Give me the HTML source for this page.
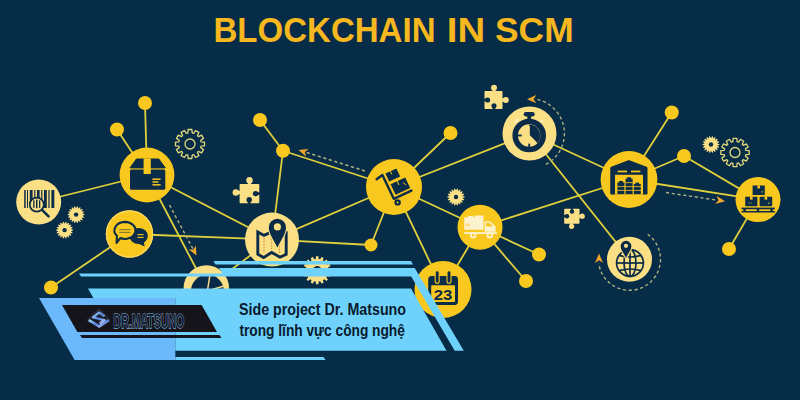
<!DOCTYPE html>
<html lang="vi"><head><meta charset="utf-8"><title>Blockchain in SCM</title>
<style>html,body{margin:0;padding:0;background:#062c47;}body{width:800px;height:400px;overflow:hidden;font-family:"Liberation Sans",sans-serif;}svg{display:block;}</style></head>
<body>
<svg width="800" height="400" viewBox="0 0 800 400">
<rect width="800" height="400" fill="#062c47"/>
<text y="42" font-family="'Liberation Sans',sans-serif" font-weight="700" font-size="35" fill="#f6b81e"><tspan x="213.5" textLength="222" lengthAdjust="spacingAndGlyphs">BLOCKCHAIN</tspan> <tspan x="446.8" textLength="38.3" lengthAdjust="spacingAndGlyphs">IN</tspan> <tspan x="495" textLength="78.6" lengthAdjust="spacingAndGlyphs">SCM</tspan></text>
<g stroke="#e0d03c" stroke-width="1.8" stroke-linecap="round">
<line x1="145" y1="103" x2="147" y2="175"/>
<line x1="117" y1="129.5" x2="147" y2="175"/>
<line x1="38.7" y1="202" x2="147" y2="175"/>
<line x1="147" y1="175" x2="272" y2="239.6"/>
<line x1="147" y1="175" x2="206.3" y2="288"/>
<line x1="129.5" y1="234" x2="272" y2="239.6"/>
<line x1="129.5" y1="234" x2="51" y2="287.5"/>
<line x1="272" y1="239.6" x2="206.3" y2="288"/>
<line x1="272" y1="239.6" x2="283" y2="150.75"/>
<line x1="260" y1="120" x2="283" y2="150.75"/>
<line x1="283" y1="150.75" x2="394" y2="187"/>
<line x1="272" y1="239.6" x2="394" y2="187"/>
<line x1="272" y1="239.6" x2="371" y2="245"/>
<line x1="394" y1="187" x2="371" y2="245"/>
<line x1="394" y1="187" x2="450.5" y2="133"/>
<line x1="394" y1="187" x2="529.5" y2="133.5"/>
<line x1="394" y1="187" x2="480" y2="227.2"/>
<line x1="394" y1="187" x2="443" y2="289.5"/>
<line x1="480" y1="227.2" x2="443" y2="289.5"/>
<line x1="480" y1="227.2" x2="539" y2="254.5"/>
<line x1="480" y1="227.2" x2="526" y2="281"/>
<line x1="480" y1="227.2" x2="629" y2="179.5"/>
<line x1="529.5" y1="133.5" x2="629" y2="179.5"/>
<line x1="529.5" y1="133.5" x2="629.5" y2="259.3"/>
<line x1="629" y1="179.5" x2="671.75" y2="112.5"/>
<line x1="629" y1="179.5" x2="684" y2="156"/>
<line x1="684" y1="156" x2="758" y2="199.6"/>
<line x1="629" y1="179.5" x2="758" y2="199.6"/>
<line x1="758" y1="199.6" x2="729" y2="249"/>
</g>
<g stroke="#afb080" stroke-width="1.4" fill="none" stroke-dasharray="3.2 2.6">
<line x1="365" y1="171" x2="306" y2="152.3"/>
<line x1="169.5" y1="205" x2="193" y2="249"/>
<line x1="666" y1="192.5" x2="716" y2="200"/>
<path d="M545.9 164.4 A35 35 0 0 0 536.8 99.3"/>
<path d="M647.7 234.2 A31 31 0 1 1 598.8 263.6"/>
</g>
<path transform="translate(298.5 150) rotate(197.5)" d="M0 0 L-9.3 -4.1 L-6.6 0 L-9.3 4.1 Z" fill="#f2a62c"/>
<path transform="translate(196.5 255.5) rotate(62)" d="M0 0 L-9.3 -4.1 L-6.6 0 L-9.3 4.1 Z" fill="#f2a62c"/>
<path transform="translate(725 201.3) rotate(8.5)" d="M0 0 L-9.3 -4.1 L-6.6 0 L-9.3 4.1 Z" fill="#f2a62c"/>
<path transform="translate(527 99.2) rotate(180)" d="M0 0 L-9.3 -4.1 L-6.6 0 L-9.3 4.1 Z" fill="#f2a62c"/>
<path transform="translate(599 253.6) rotate(-90)" d="M0 0 L-9.3 -4.1 L-6.6 0 L-9.3 4.1 Z" fill="#f2a62c"/>
<circle cx="145" cy="103" r="7" fill="#f9c81e"/>
<circle cx="117" cy="129.5" r="7" fill="#f9c81e"/>
<circle cx="38.7" cy="202" r="22.5" fill="#fbdf85"/>
<circle cx="147" cy="175" r="27.4" fill="#f9c81e"/>
<circle cx="129.5" cy="234" r="23.7" fill="#f9c81e"/>
<circle cx="51" cy="287.5" r="7" fill="#f9c81e"/>
<circle cx="272" cy="239.6" r="27" fill="#fbdf85"/>
<circle cx="206.3" cy="288" r="22.7" fill="#fbdf85"/>
<circle cx="260" cy="120" r="7" fill="#f9c81e"/>
<circle cx="283" cy="150.75" r="7" fill="#f9c81e"/>
<circle cx="394" cy="187" r="28" fill="#f9c81e"/>
<circle cx="371" cy="245" r="6.5" fill="#f9c81e"/>
<circle cx="450.5" cy="133" r="7" fill="#f9c81e"/>
<circle cx="529.5" cy="133.5" r="27" fill="#fbdf85"/>
<circle cx="480" cy="227.2" r="22.5" fill="#f9c81e"/>
<circle cx="443" cy="289.5" r="28.5" fill="#f9c81e"/>
<circle cx="539" cy="254.5" r="7" fill="#f9c81e"/>
<circle cx="526" cy="281" r="7" fill="#f9c81e"/>
<circle cx="629" cy="179.5" r="28.4" fill="#f9c81e"/>
<circle cx="629.5" cy="259.3" r="22.5" fill="#fbdf85"/>
<circle cx="671.75" cy="112.5" r="7" fill="#f9c81e"/>
<circle cx="684" cy="156" r="7" fill="#f9c81e"/>
<circle cx="758" cy="199.6" r="22.5" fill="#f9c81e"/>
<circle cx="729" cy="249" r="7" fill="#f9c81e"/>
<path d="M201.1 141.8 L204.5 142.1 L204.5 145.9 L201.1 146.2 L200.7 147.7 L203.5 149.6 L201.6 152.9 L198.5 151.4 L197.4 152.5 L198.9 155.6 L195.6 157.5 L193.7 154.7 L192.2 155.1 L191.9 158.5 L188.1 158.5 L187.8 155.1 L186.3 154.7 L184.4 157.5 L181.1 155.6 L182.6 152.5 L181.5 151.4 L178.4 152.9 L176.5 149.6 L179.3 147.7 L178.9 146.2 L175.5 145.9 L175.5 142.1 L178.9 141.8 L179.3 140.3 L176.5 138.4 L178.4 135.1 L181.5 136.6 L182.6 135.5 L181.1 132.4 L184.4 130.5 L186.3 133.3 L187.8 132.9 L188.1 129.5 L191.9 129.5 L192.2 132.9 L193.7 133.3 L195.6 130.5 L198.9 132.4 L197.4 135.5 L198.5 136.6 L201.6 135.1 L203.5 138.4 L200.7 140.3Z" fill="none" stroke="#e3d77c" stroke-width="1.3" stroke-linejoin="round"/><circle cx="190" cy="144" r="5" fill="none" stroke="#e3d77c" stroke-width="1.3"/>
<path d="M82.4 213.5 L84.5 214.2 L84.5 215.0 L82.4 215.7 L84.1 217.1 L83.9 217.8 L81.6 217.8 L82.8 219.7 L82.3 220.3 L80.2 219.5 L80.6 221.7 L80.0 222.0 L78.3 220.6 L77.9 222.8 L77.2 222.9 L76.1 221.0 L75.0 222.9 L74.3 222.8 L73.9 220.6 L72.2 222.0 L71.6 221.7 L72.0 219.5 L69.9 220.3 L69.4 219.7 L70.6 217.8 L68.3 217.8 L68.1 217.1 L69.8 215.7 L67.7 215.0 L67.7 214.2 L69.8 213.5 L68.1 212.1 L68.3 211.4 L70.6 211.4 L69.4 209.5 L69.9 208.9 L72.0 209.7 L71.6 207.5 L72.2 207.2 L73.9 208.6 L74.3 206.4 L75.0 206.3 L76.1 208.2 L77.2 206.3 L77.9 206.4 L78.3 208.6 L80.0 207.2 L80.6 207.5 L80.2 209.7 L82.3 208.9 L82.8 209.5 L81.6 211.4 L83.9 211.4 L84.1 212.1Z" fill="#fbdf85"/><circle cx="76.1" cy="214.6" r="2.2" fill="#062c47"/>
<path d="M70.9 229.0 L73.0 229.7 L73.0 230.5 L70.9 231.2 L72.6 232.6 L72.4 233.3 L70.1 233.3 L71.3 235.2 L70.8 235.8 L68.7 235.0 L69.1 237.2 L68.5 237.5 L66.8 236.1 L66.4 238.3 L65.7 238.4 L64.6 236.5 L63.5 238.4 L62.8 238.3 L62.4 236.1 L60.7 237.5 L60.1 237.2 L60.5 235.0 L58.4 235.8 L57.9 235.2 L59.1 233.3 L56.8 233.3 L56.6 232.6 L58.3 231.2 L56.2 230.5 L56.2 229.7 L58.3 229.0 L56.6 227.6 L56.8 226.9 L59.1 226.9 L57.9 225.0 L58.4 224.4 L60.5 225.2 L60.1 223.0 L60.7 222.7 L62.4 224.1 L62.8 221.9 L63.5 221.8 L64.6 223.7 L65.7 221.8 L66.4 221.9 L66.8 224.1 L68.5 222.7 L69.1 223.0 L68.7 225.2 L70.8 224.4 L71.3 225.0 L70.1 226.9 L72.4 226.9 L72.6 227.6Z" fill="#fbdf85"/><circle cx="64.6" cy="230.1" r="2.2" fill="#062c47"/>
<path d="M462.3 195.9 L464.6 196.6 L464.6 197.4 L462.3 198.1 L464.2 199.6 L464.0 200.3 L461.5 200.2 L462.8 202.2 L462.4 202.8 L460.1 201.9 L460.6 204.3 L460.0 204.6 L458.2 203.0 L457.8 205.4 L457.1 205.5 L456.0 203.4 L454.9 205.5 L454.2 205.4 L453.8 203.0 L452.0 204.6 L451.4 204.3 L451.9 201.9 L449.6 202.8 L449.2 202.2 L450.5 200.2 L448.0 200.3 L447.8 199.6 L449.7 198.1 L447.4 197.4 L447.4 196.6 L449.7 195.9 L447.8 194.4 L448.0 193.7 L450.5 193.8 L449.2 191.8 L449.6 191.2 L451.9 192.1 L451.4 189.7 L452.0 189.4 L453.8 191.0 L454.2 188.6 L454.9 188.5 L456.0 190.6 L457.1 188.5 L457.8 188.6 L458.2 191.0 L460.0 189.4 L460.6 189.7 L460.1 192.1 L462.4 191.2 L462.8 191.8 L461.5 193.8 L464.0 193.7 L464.2 194.4Z" fill="#fbdf85"/><circle cx="456" cy="197" r="2.2" fill="#062c47"/>
<path d="M328.5 268.8 L331.2 269.1 L331.2 271.5 L328.5 271.8 L328.2 273.3 L330.5 274.6 L329.6 276.7 L327.1 276.0 L326.2 277.3 L327.9 279.4 L326.3 281.0 L324.2 279.3 L322.9 280.2 L323.6 282.7 L321.5 283.6 L320.2 281.3 L318.7 281.6 L318.4 284.3 L316.0 284.3 L315.7 281.6 L314.2 281.3 L312.9 283.6 L310.8 282.7 L311.5 280.2 L310.2 279.3 L308.1 281.0 L306.5 279.4 L308.2 277.3 L307.3 276.0 L304.8 276.7 L303.9 274.6 L306.2 273.3 L305.9 271.8 L303.2 271.5 L303.2 269.1 L305.9 268.8 L306.2 267.3 L303.9 266.0 L304.8 263.9 L307.3 264.6 L308.2 263.3 L306.5 261.2 L308.1 259.6 L310.2 261.3 L311.5 260.4 L310.8 257.9 L312.9 257.0 L314.2 259.3 L315.7 259.0 L316.0 256.3 L318.4 256.3 L318.7 259.0 L320.2 259.3 L321.5 257.0 L323.6 257.9 L322.9 260.4 L324.2 261.3 L326.3 259.6 L327.9 261.2 L326.2 263.3 L327.1 264.6 L329.6 263.9 L330.5 266.0 L328.2 267.3Z" fill="#fbdf85"/><circle cx="317.2" cy="270.3" r="4.2" fill="#062c47"/>
<path d="M717.2 143.4 L719.4 144.1 L719.4 144.9 L717.2 145.6 L719.0 147.0 L718.8 147.7 L716.5 147.7 L717.7 149.6 L717.2 150.2 L715.0 149.3 L715.5 151.6 L714.9 151.9 L713.2 150.4 L712.8 152.7 L712.1 152.8 L711.0 150.8 L709.9 152.8 L709.2 152.7 L708.8 150.4 L707.1 151.9 L706.5 151.6 L707.0 149.3 L704.8 150.2 L704.3 149.6 L705.5 147.7 L703.2 147.7 L703.0 147.0 L704.8 145.6 L702.6 144.9 L702.6 144.1 L704.8 143.4 L703.0 142.0 L703.2 141.3 L705.5 141.3 L704.3 139.4 L704.8 138.8 L707.0 139.7 L706.5 137.4 L707.1 137.1 L708.8 138.6 L709.2 136.3 L709.9 136.2 L711.0 138.2 L712.1 136.2 L712.8 136.3 L713.2 138.6 L714.9 137.1 L715.5 137.4 L715.0 139.7 L717.2 138.8 L717.7 139.4 L716.5 141.3 L718.8 141.3 L719.0 142.0Z" fill="#fbdf85"/><circle cx="711" cy="144.5" r="2.2" fill="#062c47"/>
<path d="M745.8 150.4 L749.2 150.6 L749.2 154.4 L745.8 154.6 L745.4 156.1 L748.2 158.0 L746.3 161.2 L743.3 159.7 L742.2 160.8 L743.7 163.8 L740.5 165.7 L738.6 162.9 L737.1 163.3 L736.9 166.7 L733.1 166.7 L732.9 163.3 L731.4 162.9 L729.5 165.7 L726.3 163.8 L727.8 160.8 L726.7 159.7 L723.7 161.2 L721.8 158.0 L724.6 156.1 L724.2 154.6 L720.8 154.4 L720.8 150.6 L724.2 150.4 L724.6 148.9 L721.8 147.0 L723.7 143.8 L726.7 145.3 L727.8 144.2 L726.3 141.2 L729.5 139.3 L731.4 142.1 L732.9 141.7 L733.1 138.3 L736.9 138.3 L737.1 141.7 L738.6 142.1 L740.5 139.3 L743.7 141.2 L742.2 144.2 L743.3 145.3 L746.3 143.8 L748.2 147.0 L745.4 148.9Z" fill="none" stroke="#e3d77c" stroke-width="1.3" stroke-linejoin="round"/><circle cx="735" cy="152.5" r="5" fill="none" stroke="#e3d77c" stroke-width="1.3"/>
<rect x="239.6" y="184" width="19.7" height="19.2" rx="0.8" fill="#fbdf85"/><circle cx="249.5" cy="180.2" r="3.2" fill="#fbdf85"/><rect x="247.9" y="180.2" width="3.2" height="4.3" fill="#fbdf85"/><circle cx="235.8" cy="192.5" r="3.2" fill="#fbdf85"/><rect x="235.8" y="190.9" width="4.3" height="3.2" fill="#fbdf85"/><circle cx="255.6" cy="193.6" r="2.72" fill="#062c47"/><rect x="255.6" y="192.2" width="4.2" height="2.7" fill="#062c47"/><circle cx="249.2" cy="199.8" r="2.72" fill="#062c47"/><rect x="247.8" y="199.8" width="2.7" height="3.9" fill="#062c47"/>
<rect x="484.5" y="91" width="18" height="18" rx="0.8" fill="#fbdf85"/><circle cx="494" cy="87.8" r="3" fill="#fbdf85"/><rect x="492.5" y="87.8" width="3.0" height="3.7" fill="#fbdf85"/><circle cx="505.8" cy="100" r="3" fill="#fbdf85"/><rect x="502.0" y="98.5" width="3.8" height="3.0" fill="#fbdf85"/><circle cx="487.6" cy="100" r="2.55" fill="#062c47"/><rect x="484.0" y="98.7" width="3.6" height="2.5" fill="#062c47"/><circle cx="494" cy="105.8" r="2.55" fill="#062c47"/><rect x="492.7" y="105.8" width="2.5" height="3.7" fill="#062c47"/>
<rect x="564.2" y="208.7" width="15.3" height="15" rx="0.8" fill="#fbdf85"/><circle cx="582.2" cy="216.2" r="2.6" fill="#fbdf85"/><rect x="579.0" y="214.9" width="3.2" height="2.6" fill="#fbdf85"/><circle cx="571.6" cy="226.3" r="2.6" fill="#fbdf85"/><rect x="570.3" y="223.2" width="2.6" height="3.1" fill="#fbdf85"/><circle cx="572" cy="211.6" r="2.21" fill="#062c47"/><rect x="570.9" y="208.2" width="2.2" height="3.4" fill="#062c47"/><circle cx="567" cy="216.2" r="2.21" fill="#062c47"/><rect x="563.7" y="215.1" width="3.3" height="2.2" fill="#062c47"/>
<g id="ic-barcode" fill="#0a2c48">
<rect x="24.2" y="190" width="1.5" height="18"/><rect x="27" y="190" width="1" height="18"/><rect x="29.8" y="190" width="2.8" height="18"/><rect x="34.2" y="190" width="1.2" height="18"/><rect x="37" y="190" width="2.6" height="18"/><rect x="41.2" y="190" width="1.2" height="18"/><rect x="44" y="190" width="2.8" height="18"/><rect x="48.4" y="190" width="1.2" height="18"/><rect x="51.4" y="190" width="2.9" height="18"/>
<circle cx="36.8" cy="204.6" r="7" fill="#fbdf85" stroke="#0a2c48" stroke-width="1.7"/>
<rect x="33.2" y="200.3" width="1.3" height="7.6"/><rect x="36" y="199.6" width="1.5" height="8.6"/><rect x="39" y="200.3" width="1.3" height="7.6"/>
<line x1="42" y1="209.8" x2="48.6" y2="216.4" stroke="#0a2c48" stroke-width="2.5" stroke-linecap="round"/>
</g>
<g id="ic-box">
<rect x="130" y="169.4" width="35.3" height="20.4" rx="1.6" fill="#0a2c48"/>
<polygon points="136.4,159 158.8,159 165.3,167.9 130,167.9" fill="#0a2c48" stroke="#0a2c48" stroke-width="1" stroke-linejoin="round"/>
<rect x="143.6" y="158.4" width="7.2" height="15.6" fill="#f9c81e"/>
<g stroke="#f9c81e" stroke-width="1.5"><line x1="152.4" y1="179.2" x2="160.6" y2="179.2"/><line x1="152.4" y1="182" x2="158.4" y2="182"/><line x1="152.4" y1="184.8" x2="160.6" y2="184.8"/></g>
</g>
<g id="ic-chat">
<circle cx="129.5" cy="234" r="23" fill="none" stroke="#fbd65a" stroke-width="1.4"/>
<ellipse cx="138.6" cy="236" rx="9.2" ry="8" fill="#0a2c48"/>
<polygon points="138,243.4 144.6,246.6 143.6,240" fill="#0a2c48"/>
<path d="M124.8 221.9a10.7 8.5 0 1 1 -4.6 16.2l-3.6 4.9 0.3 -7.2a10.7 8.5 0 0 1 7.9 -13.9z" fill="#f9c81e" stroke="#0a2c48" stroke-width="2.1" stroke-linejoin="round"/>
<g stroke="#8a7a2c" stroke-width="1.2"><line x1="119.2" y1="229.6" x2="130.6" y2="229.6"/><line x1="119.2" y1="232.4" x2="130.6" y2="232.4"/></g>
<g stroke="#f9c81e" stroke-width="1.1"><line x1="137.5" y1="234.6" x2="143.6" y2="234.6"/><line x1="137.5" y1="237.4" x2="143.6" y2="237.4"/></g>
</g>
<g id="ic-map">
<path d="M257.8 232L264 235.4L270 232.6L278 235.5L286.2 233L286.2 254.4L280 257.2L271.7 252.4L263.6 257.6L257.8 254.2Z" fill="none" stroke="#0a2c48" stroke-width="2.9" stroke-linejoin="miter"/>
<g stroke="#c8862f" stroke-width="1" stroke-dasharray="1.6 1.3"><line x1="264" y1="238" x2="264" y2="253"/><line x1="271.7" y1="236" x2="271.7" y2="249"/><line x1="279.6" y1="240" x2="279.6" y2="253"/></g>
<path d="M277.4 247.6C274.5 241 268.8 233.6 268.8 227.4a8.6 8.6 0 0 1 17.2 0C286 233.6 280.3 241 277.4 247.6Z" fill="#0a2c48" stroke="#fbdf85" stroke-width="2.4" paint-order="stroke"/>
<circle cx="277.4" cy="226.9" r="3.6" fill="#fbdf85"/>
</g>
<g id="ic-cart" fill="none" stroke="#0a2c48" stroke-linecap="round" stroke-linejoin="round">
<path d="M376.6 179.3L382.4 175L393.8 198.8L411.4 190.6" stroke-width="2.4"/>
<circle cx="397.6" cy="202.4" r="3.2" fill="#0a2c48" stroke="none"/><circle cx="397.6" cy="202.4" r="1" fill="#f9c81e" stroke="none"/>
<g fill="#0a2c48" stroke="none">
<polygon points="385.4,173.6 396.4,168.6 400.2,176.4 389.2,181.6"/>
<polygon points="390.6,184.2 405.2,177.4 410.2,188 395.6,194.8"/>
</g>
<g stroke="#f9c81e" stroke-width="1"><line x1="390" y1="170.6" x2="391.6" y2="174"/><line x1="396.8" y1="180.4" x2="398.8" y2="184.6"/><line x1="403.5" y1="183" x2="405.5" y2="184.5"/></g>
</g>
<g id="ic-truck" fill="#fdf2cf">
<path d="M464.3 217.2h3.8v-1.2h5.2v1.2h1.4v-1.8h8.8v14.4h-19.2z"/>
<path d="M484.6 221.2h5.4l5.6 5.2v5.4h-11z"/>
<rect x="464.3" y="232.2" width="32.6" height="1.8"/>
<circle cx="473.2" cy="235.3" r="3.2"/><circle cx="489.8" cy="235.3" r="3.2"/>
<circle cx="473.2" cy="235.3" r="1.3" fill="#f9c81e"/><circle cx="489.8" cy="235.3" r="1.3" fill="#f9c81e"/>
<path d="M486 222.8h3.4l3.6 3.6h-7z" fill="#f9c81e"/>
<rect x="466.4" y="223.5" width="1" height="2.6" fill="#f9c81e"/><rect x="468.4" y="223.5" width="1" height="2.6" fill="#f9c81e"/>
</g>
<g id="ic-cal">
<rect x="428.2" y="276" width="29.8" height="29" rx="3.4" fill="#0a2c48"/>
<rect x="431.2" y="285.2" width="23.8" height="16.8" rx="0.8" fill="#f9c81e"/>
<rect x="435.2" y="270.6" width="4" height="12.6" rx="2" fill="#0a2c48" stroke="#f9c81e" stroke-width="1.1"/>
<rect x="447" y="270.6" width="4" height="12.6" rx="2" fill="#0a2c48" stroke="#f9c81e" stroke-width="1.1"/>
<text x="433.8" y="300.4" font-family="'Liberation Sans',sans-serif" font-weight="700" font-size="15.5" fill="#0a2c48" textLength="18.6" lengthAdjust="spacingAndGlyphs">23</text>
</g>
<g id="ic-stop">
<circle cx="529.2" cy="135.5" r="14" fill="none" stroke="#0a2c48" stroke-width="5.6"/>
<rect x="527.3" y="114.6" width="3.8" height="5.4" fill="#0a2c48"/>
<rect x="523.7" y="112" width="11" height="4.4" rx="2.2" fill="#0a2c48"/>
<path d="M529.2 135.5L529.2 124.4A11.1 11.1 0 0 1 537.05 143.35Z" fill="#0a2c48"/>
<path d="M529.2 126L529.2 135.5L536.4 142.7" fill="none" stroke="#fbdf85" stroke-width="1.2"/>
<g stroke="#0a2c48" stroke-width="1.8"><line x1="517.6" y1="135.5" x2="521.8" y2="135.5"/><line x1="529.2" y1="143.6" x2="529.2" y2="147.6"/></g>
<g stroke="#fdf2cf" stroke-width="1.6" stroke-linecap="round"><line x1="515.6" y1="121.6" x2="517.8" y2="119.6"/><line x1="540.8" y1="119.8" x2="542.8" y2="121.8"/></g>
</g>
<g id="ic-ware">
<path d="M610.8 194V167.4L628.8 160.6L647 167.4V194Z" fill="#0a2c48" stroke="#0a2c48" stroke-width="1" stroke-linejoin="round"/>
<rect x="615" y="174.8" width="28" height="19.8" fill="#f9c81e"/>
<g fill="#f9c81e"><rect x="617.6" y="170.6" width="9.4" height="1.7"/><rect x="631" y="170.6" width="9.4" height="1.7"/></g>
<g fill="#0a2c48">
<rect x="617.4" y="182.4" width="7" height="11.6"/><rect x="619" y="181" width="3.8" height="2"/>
<rect x="625.6" y="178.6" width="7" height="15.4"/><rect x="627.2" y="177.2" width="3.8" height="2"/>
<rect x="633.8" y="184" width="7" height="10"/><rect x="635.4" y="182.6" width="3.8" height="2"/>
</g>
<g stroke="#f9c81e" stroke-width="0.8"><line x1="617" y1="186.6" x2="641" y2="186.6"/><line x1="617" y1="190.4" x2="641" y2="190.4"/><line x1="625.6" y1="182.6" x2="632.6" y2="182.6"/></g>
</g>
<g id="ic-pallet" fill="#0a2c48">
<rect x="752.6" y="185.6" width="12.2" height="9.4" rx="0.6"/>
<rect x="745.2" y="196.8" width="12.2" height="9.4" rx="0.6"/>
<rect x="759.6" y="196.8" width="12.6" height="9.4" rx="0.6"/>
<rect x="741.4" y="207.6" width="33.4" height="1.7"/>
<rect x="741.4" y="211" width="33.4" height="1.5"/>
<rect x="743.4" y="209" width="2.4" height="3"/><rect x="756.8" y="209" width="2.4" height="3"/><rect x="770.4" y="209" width="2.4" height="3"/>
<g fill="#f9c81e"><rect x="757.4" y="185.4" width="2.6" height="3"/><rect x="750" y="196.6" width="2.6" height="3"/><rect x="764.6" y="196.6" width="2.6" height="3"/></g>
<g fill="#7d8a4a"><rect x="761.4" y="191" width="1.6" height="1.6"/><rect x="748.4" y="202.4" width="1.2" height="1.4"/><rect x="750.4" y="202.4" width="1.2" height="1.4"/><rect x="768" y="202.4" width="1.6" height="1.6"/></g>
</g>
<g id="ic-globe" fill="none" stroke="#0a2c48" stroke-width="1.7">
<circle cx="630" cy="263" r="13.4"/>
<ellipse cx="630" cy="263" rx="6" ry="13.4"/>
<line x1="630" y1="249.6" x2="630" y2="276.4"/>
<line x1="616.6" y1="263" x2="643.4" y2="263"/>
<path d="M619 255.4Q630 258.6 641 255.4M619 270.6Q630 267.4 641 270.6"/>
<path d="M626 258C624.4 254 620.6 250 620.6 246.2a5.4 5.4 0 0 1 10.8 0C631.4 250 627.6 254 626 258Z" fill="#0a2c48" stroke="#fbdf85" stroke-width="2.4" paint-order="stroke"/>
<circle cx="626" cy="245.8" r="2.1" fill="#fbdf85" stroke="none"/>
</g>
<g id="ic-pie">
<circle cx="207.4" cy="291" r="16.4" fill="#0a2c48"/>
<g stroke="#fbdf85" stroke-width="1.5"><line x1="207.4" y1="291" x2="210.4" y2="272"/><line x1="207.4" y1="291" x2="224" y2="286"/><line x1="207.4" y1="291" x2="196" y2="300"/></g>
</g>

<g>
<polygon points="213.5,261 411,261 413,264.5 215.5,264.5" fill="#6fd2fc"/>
<polygon points="219,268 414.7,268 463.8,350.8 454.7,350.8 411.2,276.5 224,276.5" fill="#6fd2fc"/>
<polygon points="79,273.5 223,273.5 224,276.5 81,276.5" fill="#6fd2fc"/>
<polygon points="39,298 175.3,298 175.3,360 74.6,360" fill="#6bb8fb"/>
<polygon points="88,288.5 411,288.5 446.5,350.8 175.3,350.8 175.3,298 93.4,298" fill="#6fd2fc"/>
<polygon points="175.3,357 323.5,357 325.5,360 175.3,360" fill="#6fd2fc"/>
<polygon points="62,305 201.6,305 217,332 77.4,332" fill="#15141b"/>
<polygon points="80,335 219.5,335 221.5,338 82,338" fill="#15141b"/>
</g>
<defs><linearGradient id="lg" x1="0" y1="0" x2="1" y2="1"><stop offset="0" stop-color="#9fd8f6"/><stop offset="0.5" stop-color="#4f7fe0"/><stop offset="1" stop-color="#c9d4fb"/></linearGradient></defs>
<g id="logo">
<polygon points="87.3,320 99.3,308.6 110,320 99.3,327.4" fill="#1a1c26" stroke="#3b4350" stroke-width="0.9"/>
<path d="M88.8 320.2L99.2 326.4L108.8 320.2" fill="none" stroke="url(#lg)" stroke-width="2.7" stroke-linejoin="round"/>
<path d="M104.6 316.2L99 312.6L93 317.4L104.4 320.2L99.6 323.6" fill="none" stroke="url(#lg)" stroke-width="2.4" stroke-linejoin="round"/>
<text x="113.6" y="327.6" font-family="'Liberation Sans',sans-serif" font-weight="700" font-size="21" fill="#131b33" stroke="#8ab4d0" stroke-width="1.25" paint-order="stroke" textLength="70.6" lengthAdjust="spacingAndGlyphs">DR.MATSUNO</text>
</g>

<g font-family="'Liberation Sans',sans-serif" font-weight="700" font-size="15.7" fill="#081a2e">
<text x="239" y="315.4" textLength="167" lengthAdjust="spacingAndGlyphs">Side project Dr. Matsuno</text>
<text x="239.4" y="335.8" textLength="165.5" lengthAdjust="spacingAndGlyphs">trong lĩnh vực công nghệ</text>
</g>
</svg>
</body></html>
